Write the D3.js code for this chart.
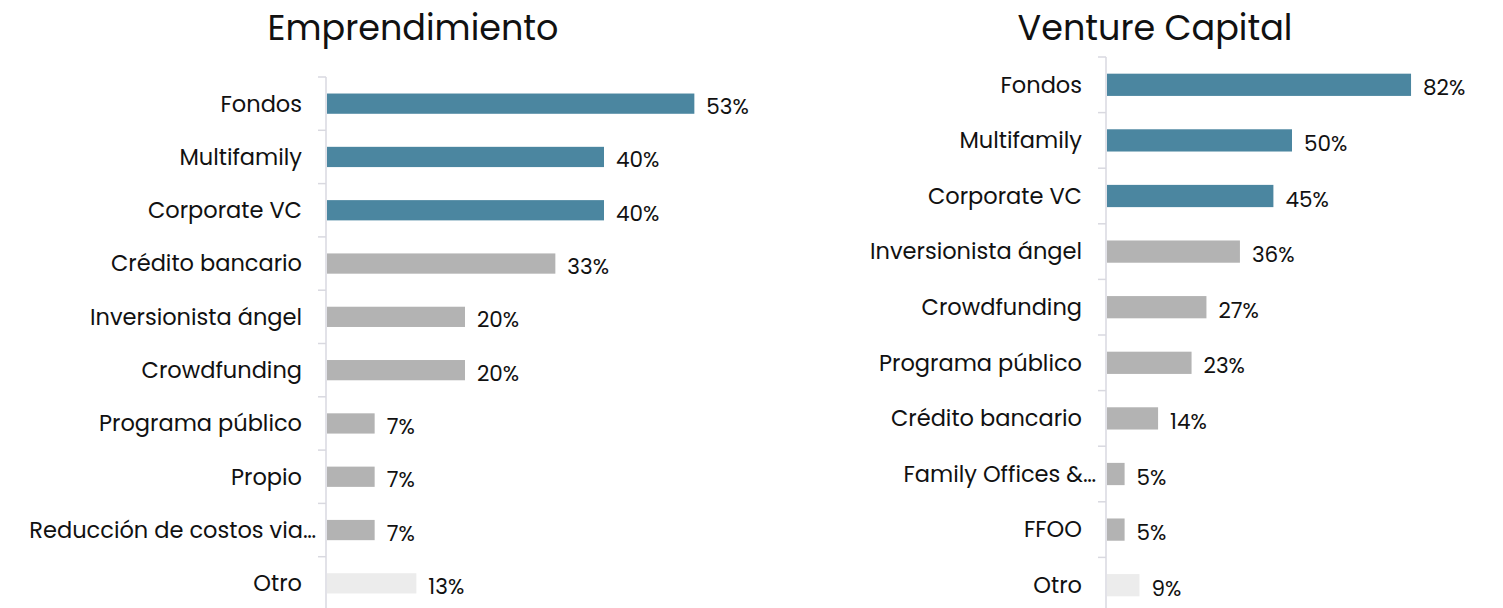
<!DOCTYPE html>
<html>
<head>
<meta charset="utf-8">
<script src="https://cdn.jsdelivr.net/npm/d3@7"></script>
<style>
  body { margin: 0; background: #fff; }
  svg { display: block; }
</style>
</head>
<body>
<script>
  const FONT = "Poppins, Inter, 'Noto Sans', sans-serif";

  const emprCategories = ["Fondos", "Multifamily", "Corporate VC", "Crédito bancario", "Inversionista ángel",
    "Crowdfunding", "Programa público", "Propio", "Reducción de costos via…", "Otro"];
  const emprValues = [53, 40, 40, 33, 20, 20, 7, 7, 7, 13];
  const emprGroups = ["top", "top", "top", "mid", "mid", "mid", "mid", "mid", "mid", "other"];

  const vcCategories = ["Fondos", "Multifamily", "Corporate VC", "Inversionista ángel", "Crowdfunding",
    "Programa público", "Crédito bancario", "Family Offices &…", "FFOO", "Otro"];
  const vcValues = [82, 50, 45, 36, 27, 23, 14, 5, 5, 9];
  const vcGroups = ["top", "top", "top", "mid", "mid", "mid", "mid", "mid", "mid", "other"];

  const colors = { top: "#4b86a0", mid: "#b3b3b3", other: "#ececec" };

  const width = 1503, height = 608;

  const svg = d3.select("body").append("svg")
    .attr("width", width)
    .attr("height", height);

  function drawPanel(cfg) {
    const data = cfg.categories.map((c, i) => ({ name: c, value: cfg.values[i], group: cfg.groups[i] }));

    const y = d3.scaleBand()
      .domain(cfg.categories)
      .range([cfg.top, cfg.bottom])
      .paddingInner(cfg.pad)
      .paddingOuter(cfg.pad / 2);

    const x = d3.scaleLinear()
      .domain([0, 100])
      .range([cfg.x0, cfg.x0 + cfg.pxPerPct * 100]);

    const g = svg.append("g");

    g.append("text")
      .attr("x", cfg.titleX)
      .attr("y", 40)
      .attr("text-anchor", "middle")
      .attr("font-family", FONT)
      .attr("font-size", 35)
      .attr("fill", "#111")
      .text(cfg.title);

    // axis line + band ticks
    g.append("line")
      .attr("x1", cfg.x0).attr("x2", cfg.x0)
      .attr("y1", cfg.top).attr("y2", cfg.bottom)
      .attr("stroke", "#d9d9e0").attr("stroke-width", 1.5);

    const tickYs = d3.range(cfg.categories.length + 1).map(i => cfg.top + i * y.step());
    g.selectAll(".tick")
      .data(tickYs)
      .enter()
      .append("line")
      .attr("x1", cfg.x0 - 8).attr("x2", cfg.x0)
      .attr("y1", d => d).attr("y2", d => d)
      .attr("stroke", "#d9d9e0").attr("stroke-width", 1.5);

    g.selectAll(".bar")
      .data(data)
      .enter()
      .append("rect")
      .attr("x", x(0) + 1)
      .attr("y", d => y(d.name))
      .attr("width", d => x(d.value) - x(0) - 1)
      .attr("height", y.bandwidth())
      .attr("fill", d => colors[d.group]);

    g.selectAll(".cat")
      .data(data)
      .enter()
      .append("text")
      .attr("x", d => d.name.endsWith("…") ? cfg.x0 - 10 : cfg.x0 - 24)
      .attr("y", d => y(d.name) + y.bandwidth() / 2)
      .attr("dy", "0.35em")
      .attr("text-anchor", "end")
      .attr("font-family", FONT)
      .attr("font-size", 22.5)
      .attr("fill", "#111")
      .text(d => d.name);

    g.selectAll(".val")
      .data(data)
      .enter()
      .append("text")
      .attr("x", d => x(d.value) + 12)
      .attr("y", d => y(d.name) + y.bandwidth() / 2 + 3)
      .attr("dy", "0.35em")
      .attr("font-family", FONT)
      .attr("font-size", 21.5)
      .attr("fill", "#111")
      .text(d => d.value + "%");
  }

  drawPanel({
    title: "Emprendimiento", titleX: 413,
    categories: emprCategories, values: emprValues, groups: emprGroups,
    top: 77, bottom: 610, pad: 0.62, x0: 326, pxPerPct: 6.95
  });

  drawPanel({
    title: "Venture Capital", titleX: 1155,
    categories: vcCategories, values: vcValues, groups: vcGroups,
    top: 57, bottom: 613, pad: 0.6, x0: 1106, pxPerPct: 3.72
  });
</script>
</body>
</html>
